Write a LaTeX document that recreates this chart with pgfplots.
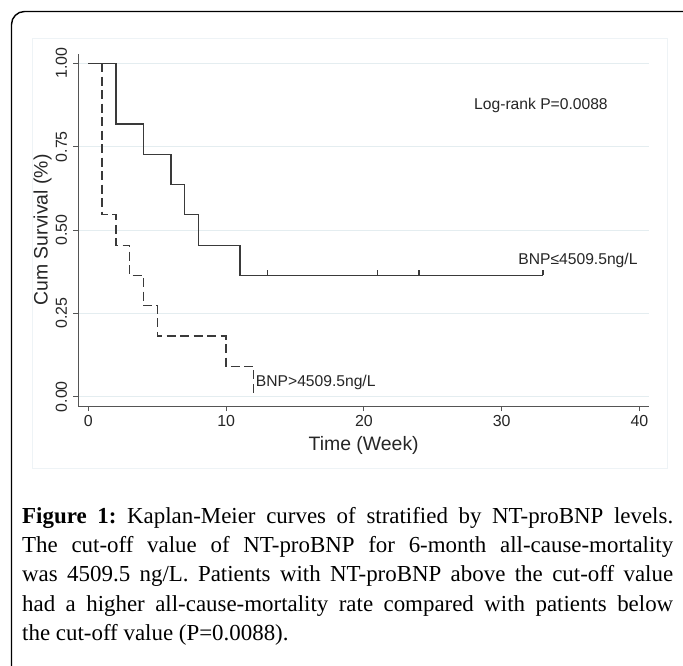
\documentclass[border=0pt]{standalone}
\usepackage{fontspec}
\setmainfont{Liberation Serif}
\setsansfont{Liberation Sans}
\usepackage{pgfplots}
\pgfplotsset{compat=1.18}
\definecolor{curve}{HTML}{3A3A3A}
\definecolor{gridc}{HTML}{E4EDF0}
\definecolor{axisc}{HTML}{555555}
\definecolor{panel}{HTML}{EEF3F6}
% censor tick: short stroke upward from the curve
\pgfdeclareplotmark{cens}{\pgfpathmoveto{\pgfpointorigin}\pgfpathlineto{\pgfpoint{0pt}{5.5bp}}\pgfusepathqstroke}

\begin{document}
\begin{tikzpicture}
\path[use as bounding box] (0,0) rectangle (683bp,-666bp);
\fill[white] (0,0) rectangle (683bp,-666bp);
\draw[black, line width=1.4bp, rounded corners=13bp] (11.5bp,-760bp) -- (11.5bp,-11.5bp) -- (760bp,-11.5bp);
\draw[panel, line width=0.8bp] (32bp,-38bp) rectangle (667bp,-468bp);

\begin{axis}[
  at={(78.3bp,-406bp)}, anchor=south west,
  width=570.7bp, height=352bp, scale only axis,
  xmin=-0.73, xmax=40.69, ymin=-0.028, ymax=1.028,
  axis x line*=bottom, axis y line*=left,
  axis line style={axisc, line width=0.9bp, -},
  xtick={0,10,20,30,40},
  ytick={0,0.25,0.5,0.75,1},
  yticklabels={0.00,0.25,0.50,0.75,1.00},
  tick align=outside, major tick length=5bp,
  tick style={axisc, line width=0.9bp},
  ticklabel style={font=\fontsize{16}{18}\selectfont\sffamily, text=black!85},
  yticklabel style={rotate=90, anchor=south, inner sep=6pt},
  xticklabel style={anchor=north, inner sep=4.5pt},
  /pgf/number format/assume math mode=true,
  ymajorgrids, grid style={gridc, line width=0.9bp},
  xlabel={Time (Week)}, ylabel={Cum Survival (\%)},
  label style={font=\fontsize{19.5}{22}\selectfont\sffamily, text=black!85},
  xlabel style={at={(axis description cs:0.5,-0.112)}, anchor=center},
  ylabel style={at={(axis description cs:-0.0624,0.5)}, anchor=center},
  clip=false,
]
% BNP <= 4509.5 ng/L
\addplot[const plot, curve, line width=1.3bp] coordinates {
  (0,1) (2,0.8182) (4,0.7273) (6,0.6364) (7,0.5455) (8,0.4545) (11,0.3636) (33,0.3636)};
\addplot[only marks, mark=cens, curve, line width=1.1bp] coordinates {
  (13,0.3636) (21,0.3636) (24,0.3636) (33,0.3636)};
% BNP > 4509.5 ng/L
\addplot[const plot, curve, line width=1.3bp, dash pattern=on 9bp off 4.5bp] coordinates {
  (0,1) (1,0.5455) (2,0.4545) (3,0.3636) (4,0.2727) (5,0.1818) (10,0.0909) (12,0)};

\node[font=\fontsize{15.7}{18}\selectfont\sffamily, text=black!85] at (axis cs:32.85,0.875) {Log-rank P=0.0088};
\node[font=\fontsize{15.7}{18}\selectfont\sffamily, text=black!85, anchor=west, inner sep=0pt] at (axis cs:31.2,0.41) {BNP≤4509.5ng/L};
\node[font=\fontsize{15.7}{18}\selectfont\sffamily, text=black!85, anchor=west, inner sep=0pt] at (axis cs:12.15,0.042) {BNP>4509.5ng/L};
\end{axis}

\node[anchor=base west, text width=651bp, align=justify, inner sep=0pt,
      font=\fontsize{23}{29.5}\selectfont] at (22bp,-523bp)
  {\frenchspacing\tolerance=9999\hbadness=10000\hyphenpenalty=10000\exhyphenpenalty=10000
   \textbf{Figure 1:} Kaplan-Meier curves of stratified by NT-proBNP levels.\linebreak
   The cut-off value of NT-proBNP for 6-month all-cause-mortality\linebreak
   was 4509.5 ng/L. Patients with NT-proBNP above the cut-off value\linebreak
   had a higher all-cause-mortality rate compared with patients below\linebreak
   the cut-off value (P=0.0088).};
\end{tikzpicture}
\end{document}
